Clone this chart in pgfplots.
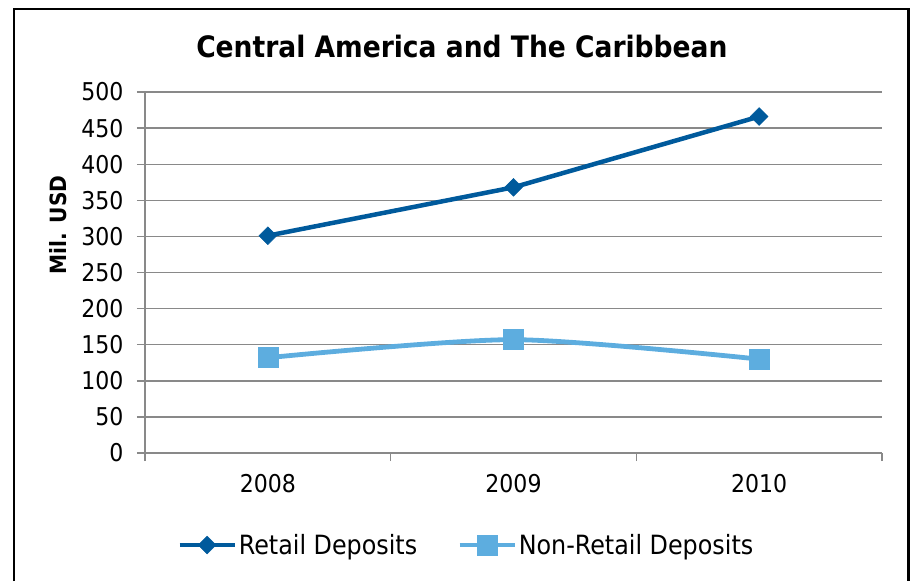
\documentclass[border=0pt]{standalone}
\usepackage{fontspec}
\setmainfont{DejaVu Sans Condensed}
\usepackage{pgfplots}
\pgfplotsset{compat=1.18}
\definecolor{retail}{RGB}{0,90,156}
\definecolor{nonretail}{RGB}{93,173,223}
\definecolor{gridgray}{RGB}{137,137,137}
\begin{document}
\begin{tikzpicture}[x=1pt,y=1pt]
% canvas: image x -> x-145, image y -> 453-y
\path (-145,-128) rectangle (765,453);
\draw[line width=2.2pt,black] (-131,-128) -- (-131,444) -- (763.5,444) -- (763.5,-128);
\begin{axis}[
  at={(0,0)}, anchor=south west,
  scale only axis,
  width=737pt, height=361pt,
  xmin=-0.5, xmax=2.5,
  ymin=0, ymax=500,
  ytick={0,50,...,500},
  xtick={0,1,2},
  xticklabels={2008,2009,2010},
  xtick style={draw=none},
  extra x ticks={-0.5,0.5,1.5,2.5},
  extra x tick labels={},
  extra x tick style={grid=none, xtick style={draw=gridgray, line width=1.2pt}},
  major tick length=8pt,
  ytick style={gridgray, line width=1.4pt},
  tick align=outside,
  axis lines*=left,
  axis line style={gridgray, line width=1.4pt, -},
  ymajorgrids,
  grid style={gridgray, line width=1.4pt},
  /pgf/number format/assume math mode=true,
  tick label style={font=\fontsize{24.5}{24.5}\selectfont, black},
  yticklabel style={xshift=-10pt},
  xticklabel style={yshift=-10pt},
  ylabel={\bfseries Mil. USD},
  ylabel style={font=\fontsize{22.4}{22.4}\selectfont, at={(axis description cs:-0.118,0.632)}, anchor=center, rotate=0},
  title={\bfseries Central America and The Caribbean},
  title style={font=\fontsize{29.5}{29.5}\selectfont, at={(axis description cs:0.43,1)}, anchor=center, yshift=39pt},
  legend style={draw=none, fill=none, at={(0.436,-0.255)}, anchor=center, legend columns=2,
    font=\fontsize{26.5}{26.5}\selectfont, /tikz/every even column/.append style={column sep=38pt}},
  legend image code/.code={\draw[#1, line width=4.5pt] (0pt,0pt) -- (55pt,0pt); \draw[#1, mark repeat=1] plot coordinates {(27.5pt,0pt)};},
  clip=false,
]
\addplot[retail, line width=4.5pt, mark=square*, mark size=6.3pt, mark options={rotate=45, solid, line width=0.5pt}]
  coordinates {(0,301) (1,368) (2,466)};
\addlegendentry{Retail Deposits}
\addplot[nonretail, line width=4.8pt, smooth, tension=0.45, mark=square*, mark size=10pt, mark options={solid, line width=0.5pt}]
  coordinates {(0,132) (1,157) (2,130)};
\addlegendentry{Non-Retail Deposits}
\end{axis}
\end{tikzpicture}
\end{document}
